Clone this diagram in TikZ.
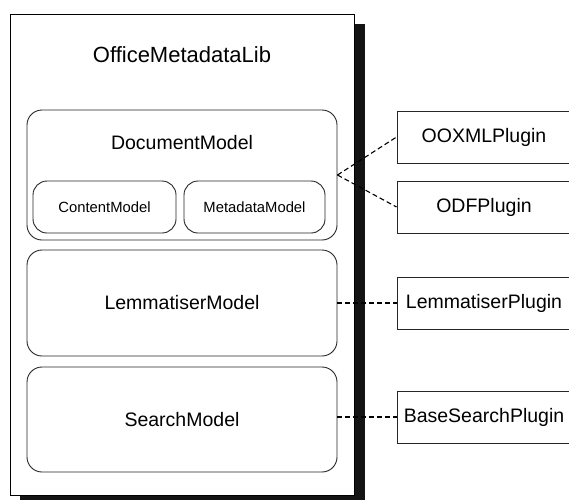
\documentclass[tikz,border=0pt]{standalone}
\usepackage{fontspec}
\setmainfont{Liberation Sans}
\begin{document}
\begin{tikzpicture}[x=1pt,y=-1pt,
  bigtxt/.style={font=\fontsize{19.5}{23}\selectfont},
  smalltxt/.style={font=\fontsize{14.8}{18}\selectfont},
  model/.style={draw=black!85, line width=0.9pt, rounded corners=15pt, inner sep=0pt, bigtxt},
  submodel/.style={draw=black!85, line width=0.9pt, rounded corners=14pt, inner sep=0pt, smalltxt},
  plugin/.style={draw=black!85, line width=0.9pt, rectangle, inner sep=0pt, minimum width=174pt, minimum height=52pt, bigtxt},
  link/.style={draw=black, line width=1.1pt, dash pattern=on 5pt off 3pt}
]
\useasboundingbox (0,0) rectangle (569,499);
\clip (0,0) rectangle (569,499);
\fill[fill=black!92] (20,24) rectangle (365,505);
\node[draw=black, fill=white, line width=0.9pt, inner sep=0pt, minimum width=344pt, minimum height=481pt] (lib) at (182,254.5) {};
\node[font=\fontsize{22}{26}\selectfont] (title) at (182,55) {OfficeMetadataLib};
\node[model, minimum width=310pt, minimum height=130pt] (doc) at (182,175) {};
\node[bigtxt] (doctitle) at (182,143) {DocumentModel};
\node[submodel, minimum width=143pt, minimum height=52pt] (content) at (104.5,207) {ContentModel};
\node[submodel, minimum width=141pt, minimum height=52pt] (meta) at (254.5,207) {MetadataModel};
\node[model, minimum width=310pt, minimum height=106pt] (lem) at (182,303) {LemmatiserModel};
\node[model, minimum width=310pt, minimum height=105pt] (search) at (182,419.5) {SearchModel};
\node[plugin] (ooxml) at (484,137) {OOXMLPlugin};
\node[plugin] (odf) at (484,207) {ODFPlugin};
\node[plugin] (lplug) at (484,303) {LemmatiserPlugin};
\node[plugin] (bplug) at (484,417) {BaseSearchPlugin};
\draw[link] (doc.east) -- (ooxml.west);
\draw[link] (doc.east) -- (odf.west);
\draw[link] (lem.east) -- (lplug.west);
\draw[link] (search.east |- bplug.west) -- (bplug.west);
\end{tikzpicture}
\end{document}
